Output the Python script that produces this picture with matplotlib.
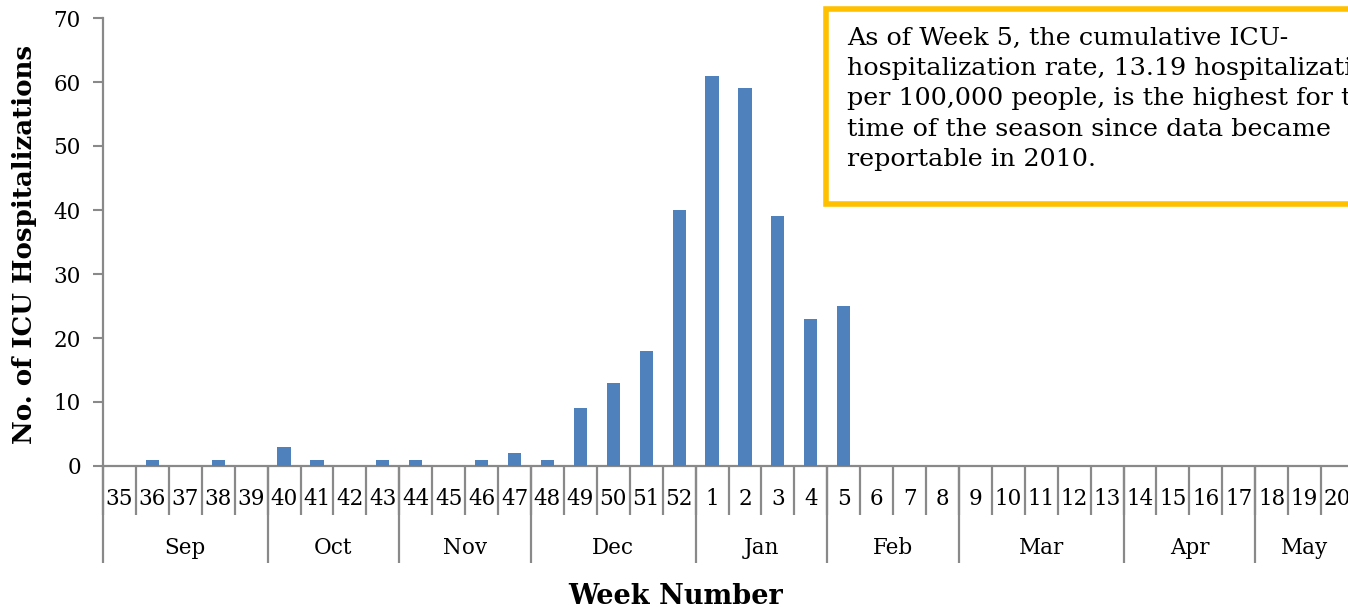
import matplotlib
matplotlib.use("Agg")
import matplotlib.pyplot as plt
from matplotlib.patches import Rectangle
import matplotlib.transforms as mtransforms

weeks = [str(w) for w in range(35, 53)] + [str(w) for w in range(1, 21)]
values = [0, 1, 0, 1, 0, 3, 1, 0, 1, 1, 0, 1, 2, 1, 9, 13, 18, 40,
          61, 59, 39, 23, 25] + [0] * 15
months = ["Sep", "Oct", "Nov", "Dec", "Jan", "Feb", "Mar", "Apr", "May"]
month_lengths = [5, 4, 4, 5, 4, 4, 5, 4, 3]
yticks = [0, 10, 20, 30, 40, 50, 60, 70]
note = ("As of Week 5, the cumulative ICU-\n"
        "hospitalization rate, 13.19 hospitalizations\n"
        "per 100,000 people, is the highest for this\n"
        "time of the season since data became\n"
        "reportable in 2010.")

W, H = 1348, 610
fig = plt.figure(figsize=(W / 100, H / 100), dpi=100)
serif = "DejaVu Serif"
gray = "#898989"
tfs = 15.5

left, right = 103, 1354
bottom, top = 466, 18
ax = fig.add_axes([left / W, 1 - bottom / H, (right - left) / W, (bottom - top) / H])
n = len(weeks)
xs = [i + 0.5 for i in range(n)]
ax.bar(xs, values, width=0.4, color="#4F81BD", zorder=3)
ax.set_xlim(0, n)
ax.set_ylim(0, 70)
ax.set_yticks(yticks)
ax.set_yticklabels([str(t) for t in yticks], fontfamily=serif, fontsize=tfs)
ax.tick_params(axis="y", length=7, width=1.5, color=gray, pad=9)
ax.set_xticks([])
for s in ["top", "right"]:
    ax.spines[s].set_visible(False)
for s in ["left", "bottom"]:
    ax.spines[s].set_color(gray)
    ax.spines[s].set_linewidth(1.6)

ah = bottom - top
trans = mtransforms.blended_transform_factory(ax.transData, ax.transAxes)
week_row = -49 / ah
month_row = -97 / ah
for i in range(n + 1):
    ax.plot([i, i], [0, week_row], transform=trans, color=gray, lw=1.6,
            clip_on=False, solid_capstyle="butt")
for i, w in enumerate(weeks):
    ax.text(i + 0.5, -33 / ah, w, transform=trans, ha="center", va="center",
            fontfamily=serif, fontsize=tfs)
pos = 0
bounds = [0]
for m, L in zip(months, month_lengths):
    ax.text(pos + L / 2, -82 / ah, m, transform=trans, ha="center", va="center",
            fontfamily=serif, fontsize=tfs)
    pos += L
    bounds.append(pos)
for b in bounds:
    ax.plot([b, b], [0, month_row], transform=trans, color=gray, lw=1.6,
            clip_on=False, solid_capstyle="butt")

fig.text(25 / W, 1 - 244 / H, "No. of ICU Hospitalizations", rotation=90,
         ha="center", va="center", fontfamily=serif, fontsize=18.7, fontweight="bold")
fig.text(676 / W, 1 - 596 / H, "Week Number", ha="center", va="center",
         fontfamily=serif, fontsize=19.5, fontweight="bold")

bx0, by0, bx1, by1 = 826, 9, 1400, 204
fig.patches.append(Rectangle((bx0 / W, 1 - by1 / H), (bx1 - bx0) / W, (by1 - by0) / H,
                             transform=fig.transFigure, facecolor="white",
                             edgecolor="#FFC000", linewidth=4, zorder=5))
fig.text(847 / W, 1 - 27 / H, note, ha="left", va="top", fontfamily=serif,
         fontsize=18.3, linespacing=1.4, zorder=6)

fig.savefig("out.png", dpi=100)
